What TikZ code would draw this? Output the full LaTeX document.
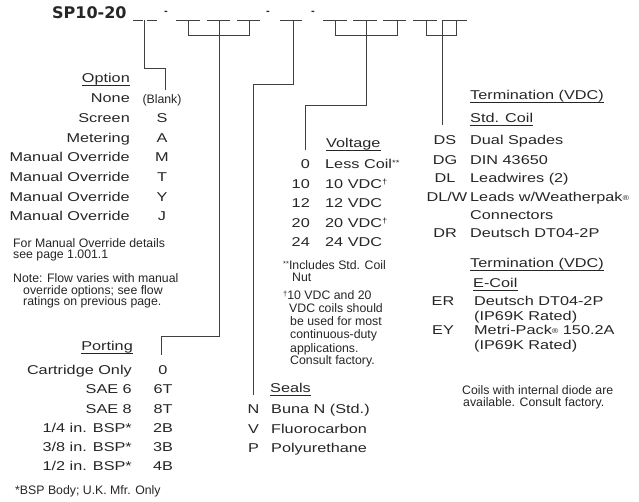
\documentclass[tikz,border=0pt]{standalone}
\usepackage{fontspec}
\setmainfont[FakeStretch=1.27]{Liberation Sans}
\newfontfamily\smallf{Liberation Sans}
\newfontfamily\titlef{DejaVu Sans}
\definecolor{txt}{gray}{0.15}
\definecolor{lc}{gray}{0.25}
\newcommand{\sups}[1]{\raisebox{3.5pt}{\fontsize{7.5}{8}\selectfont #1}}
\newcommand{\regm}{{\fontsize{7}{8}\selectfont\raisebox{1pt}{®}}}
\begin{document}
\begin{tikzpicture}[x=1pt,y=-1pt,
  lbl/.style={inner sep=0pt, text=txt, font=\fontsize{12.8}{14}\selectfont},
  sm/.style={inner sep=0pt, text=txt, font=\smallf\fontsize{12.3}{13}\selectfont},
  ttl/.style={inner sep=0pt, text=txt, font=\titlef\bfseries\fontsize{16}{18}\selectfont},
  dsh/.style={inner sep=0pt, text=txt, font=\titlef\bfseries\fontsize{9}{10}\selectfont},
  ln/.style={draw=lc, line width=0.9pt},
  blank/.style={draw=lc, line width=1pt},
  ul/.style={draw=txt, line width=0.8pt}]
\useasboundingbox (0,0) rectangle (639,502);
\fill[white] (0,0) rectangle (639,502);

% model code
\node[ttl, anchor=west] (title) at (52,12.5) {SP10-20};
\foreach \a/\b in {133/143,147/157,176/200,207/230,237/260,280/302,323/347,353/377,383/406,413/437,443/467}
  \draw[blank] (\a,20.5) -- (\b,20.5);
\node[dsh] (d1) at (166,13) {-};
\node[dsh] (d2) at (268,13) {-};
\node[dsh] (d3) at (313,13) {-};

% brackets / leaders
\coordinate (optEnd) at (165,90);
\coordinate (portEnd) at (161,355);
\coordinate (sealEnd) at (253.5,395);
\coordinate (voltEnd) at (305,150);
\coordinate (termEnd) at (442,125);
\draw[ln] (144,20.5) |- (165,68) -- (optEnd);
\draw[ln] (188,20.5) |- (249,35) -- (249,20.5);
\draw[ln] (219,20.5) |- (161,336) -- (portEnd);
\draw[ln] (293,20.5) |- (253.5,84) -- (sealEnd);
\draw[ln] (335,20.5) |- (397,35) -- (397,20.5);
\draw[ln] (366,20.5) |- (305,105) -- (voltEnd);
\draw[ln] (426,20.5) |- (456,35) -- (456,20.5);
\draw[ln] (442,20.5) -- (termEnd);

% Option
\node[lbl, anchor=mid east] (hopt) at (130,80) {Option};
\draw[ul] ([yshift=-2.5pt]hopt.base west) -- ([yshift=-2.5pt]hopt.base east);
\node[lbl, anchor=mid east] (o1) at (130,100) {None};
\node[lbl, anchor=mid east] (o2) at (130,119.7) {Screen};
\node[lbl, anchor=mid east] (o3) at (130,139.4) {Metering};
\node[lbl, anchor=mid east] (o4) at (130,159.1) {Manual Override};
\node[lbl, anchor=mid east] (o5) at (130,178.8) {Manual Override};
\node[lbl, anchor=mid east] (o6) at (130,198.5) {Manual Override};
\node[lbl, anchor=mid east] (o7) at (130,218.2) {Manual Override};
\node[sm, anchor=mid] (c1) at (162,100.5) {(Blank)};
\node[lbl, anchor=mid] (c2) at (162,119.7) {S};
\node[lbl, anchor=mid] (c3) at (162,139.4) {A};
\node[lbl, anchor=mid] (c4) at (162,159.1) {M};
\node[lbl, anchor=mid] (c5) at (162,178.8) {T};
\node[lbl, anchor=mid] (c6) at (162,198.5) {Y};
\node[lbl, anchor=mid] (c7) at (162,218.2) {J};
\node[sm, anchor=mid west] (n1) at (13,245) {For Manual Override details};
\node[sm, anchor=mid west] (n2) at (13,256) {see page 1.001.1};
\node[sm, anchor=mid west] (n3) at (13,280) {Note: Flow varies with manual};
\node[sm, anchor=mid west] (n4) at (23,291.5) {override options; see flow};
\node[sm, anchor=mid west] (n5) at (23,303) {ratings on previous page.};

% Porting
\node[lbl, anchor=mid east] (hport) at (133,348) {Porting};
\draw[ul] ([yshift=-2.5pt]hport.base west) -- ([yshift=-2.5pt]hport.base east);
\node[lbl, anchor=mid east] (p1) at (132,372) {Cartridge Only};
\node[lbl, anchor=mid east] (p2) at (132,391.2) {SAE 6};
\node[lbl, anchor=mid east] (p3) at (132,410.4) {SAE 8};
\node[lbl, anchor=mid east] (p4) at (132,429.6) {1/4 in. BSP*};
\node[lbl, anchor=mid east] (p5) at (132,448.8) {3/8 in. BSP*};
\node[lbl, anchor=mid east] (p6) at (132,468) {1/2 in. BSP*};
\node[lbl, anchor=mid] (pc1) at (163,372) {0};
\node[lbl, anchor=mid] (pc2) at (163,391.2) {6T};
\node[lbl, anchor=mid] (pc3) at (163,410.4) {8T};
\node[lbl, anchor=mid] (pc4) at (163,429.6) {2B};
\node[lbl, anchor=mid] (pc5) at (163,448.8) {3B};
\node[lbl, anchor=mid] (pc6) at (163,468) {4B};
\node[sm, anchor=mid west] (pn) at (15,492) {*BSP Body; U.K. Mfr. Only};

% Voltage
\node[lbl, anchor=mid west] (hvolt) at (326,145) {Voltage};
\draw[ul] ([yshift=-2.5pt]hvolt.base west) -- ([yshift=-2.5pt]hvolt.base east);
\node[lbl, anchor=mid east] (v1) at (310,166) {0};
\node[lbl, anchor=mid east] (v2) at (310,185.5) {10};
\node[lbl, anchor=mid east] (v3) at (310,205) {12};
\node[lbl, anchor=mid east] (v4) at (310,224.5) {20};
\node[lbl, anchor=mid east] (v5) at (310,244) {24};
\node[lbl, anchor=mid west] (vd1) at (325,166) {Less Coil\sups{**}};
\node[lbl, anchor=mid west] (vd2) at (325,185.5) {10 VDC\sups{†}};
\node[lbl, anchor=mid west] (vd3) at (325,205) {12 VDC};
\node[lbl, anchor=mid west] (vd4) at (325,224.5) {20 VDC\sups{†}};
\node[lbl, anchor=mid west] (vd5) at (325,244) {24 VDC};
\node[sm, anchor=mid west] (vn1) at (283,267) {\sups{**}Includes Std. Coil};
\node[sm, anchor=mid west] (vn2) at (292,279) {Nut};
\node[sm, anchor=mid west] (vn3) at (283,297) {\sups{†}10 VDC and 20};
\node[sm, anchor=mid west] (vn4) at (289,310) {VDC coils should};
\node[sm, anchor=mid west] (vn5) at (290,322.5) {be used for most};
\node[sm, anchor=mid west] (vn6) at (290,336) {continuous-duty};
\node[sm, anchor=mid west] (vn7) at (290,349.5) {applications.};
\node[sm, anchor=mid west] (vn8) at (290,362) {Consult factory.};

% Seals
\node[lbl, anchor=mid west] (hseal) at (270,390) {Seals};
\draw[ul] ([yshift=-2.5pt]hseal.base west) -- ([yshift=-2.5pt]hseal.base east);
\node[lbl, anchor=mid] (s1) at (253.5,411) {N};
\node[lbl, anchor=mid] (s2) at (253.5,431) {V};
\node[lbl, anchor=mid] (s3) at (253.5,450) {P};
\node[lbl, anchor=mid west] (sd1) at (271,411) {Buna N (Std.)};
\node[lbl, anchor=mid west] (sd2) at (271,431) {Fluorocarbon};
\node[lbl, anchor=mid west] (sd3) at (271,450) {Polyurethane};

% Termination - Std. Coil
\node[lbl, anchor=mid west] (ht1) at (470,97) {Termination (VDC)};
\draw[ul] ([yshift=-2.5pt]ht1.base west) -- ([yshift=-2.5pt]ht1.base east);
\node[lbl, anchor=mid west] (hs1) at (470,120) {Std. Coil};
\draw[ul] ([yshift=-2.5pt]hs1.base west) -- ([yshift=-2.5pt]hs1.base east);
\node[lbl, anchor=mid] (t1) at (445,142) {DS};
\node[lbl, anchor=mid] (t2) at (445,161.5) {DG};
\node[lbl, anchor=mid] (t3) at (445,180) {DL};
\node[lbl, anchor=mid] (t4) at (447,198.5) {DL/W};
\node[lbl, anchor=mid] (t5) at (445,235) {DR};
\node[lbl, anchor=mid west] (td1) at (470,142) {Dual Spades};
\node[lbl, anchor=mid west] (td2) at (470,161.5) {DIN 43650};
\node[lbl, anchor=mid west] (td3) at (470,180) {Leadwires (2)};
\node[lbl, anchor=mid west] (td4) at (470,198.5) {Leads w/Weatherpak\regm};
\node[lbl, anchor=mid west] (td4b) at (470,217) {Connectors};
\node[lbl, anchor=mid west] (td5) at (470,235) {Deutsch DT04-2P};

% Termination - E-Coil
\node[lbl, anchor=mid west] (ht2) at (470,265) {Termination (VDC)};
\draw[ul] ([yshift=-2.5pt]ht2.base west) -- ([yshift=-2.5pt]ht2.base east);
\node[lbl, anchor=mid west] (hs2) at (473,285) {E-Coil};
\draw[ul] ([yshift=-2.5pt]hs2.base west) -- ([yshift=-2.5pt]hs2.base east);
\node[lbl, anchor=mid] (e1) at (443,303) {ER};
\node[lbl, anchor=mid] (e2) at (443,332) {EY};
\node[lbl, anchor=mid west] (ed1) at (474,303) {Deutsch DT04-2P};
\node[lbl, anchor=mid west] (ed1b) at (474,318) {(IP69K Rated)};
\node[lbl, anchor=mid west] (ed2) at (474,332) {Metri-Pack\regm\ 150.2A};
\node[lbl, anchor=mid west] (ed2b) at (474,347) {(IP69K Rated)};
\node[sm, anchor=mid west] (cn1) at (462,392) {Coils with internal diode are};
\node[sm, anchor=mid west] (cn2) at (463,404) {available. Consult factory.};
\end{tikzpicture}
\end{document}
